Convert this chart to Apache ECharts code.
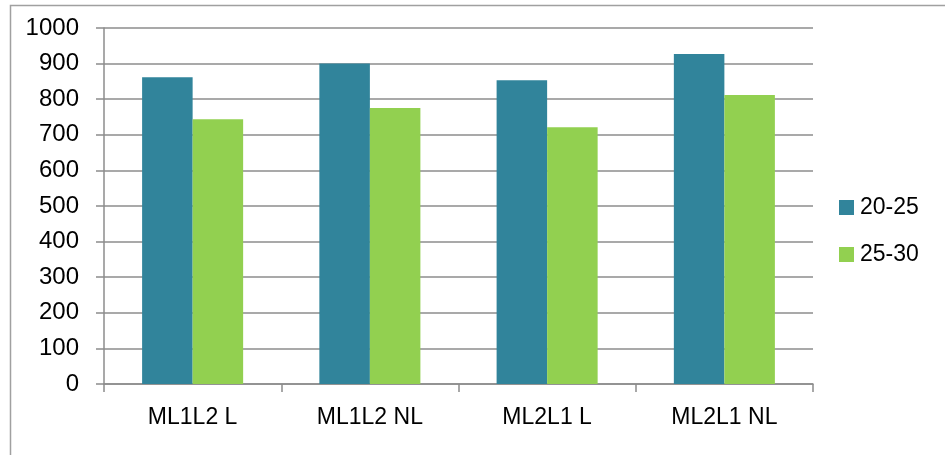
<!DOCTYPE html>
<html>
<head>
<meta charset="utf-8">
<script src="https://cdn.jsdelivr.net/npm/echarts@6/dist/echarts.min.js"></script>
<style>
  html, body { margin: 0; padding: 0; background: #fff; }
  #chart { width: 945px; height: 455px; }
</style>
</head>
<body>
<div id="chart"></div>
<script>
// Categories and the two age-group series
const categories = ['ML1L2 L', 'ML1L2 NL', 'ML2L1 L', 'ML2L1 NL'];
const series2025 = [862, 900, 853, 927];
const series2530 = [744, 775, 721, 812];
const seriesNames = ['20-25', '25-30'];
const yTicks = { min: 0, max: 1000, interval: 100 };

const font = "'Liberation Sans', Arial, sans-serif";
const chart = echarts.init(document.getElementById('chart'), null, { renderer: 'canvas' });

chart.setOption({
  animation: false,
  backgroundColor: '#fff',
  graphic: [{
    type: 'rect',
    shape: { x: 10.5, y: 5.5, width: 1000, height: 500 },
    style: { fill: 'none', stroke: '#a0a0a0', lineWidth: 1.5 },
    silent: true
  }],
  grid: { left: 104, right: 132, top: 28, bottom: 71, containLabel: false },
  legend: {
    orient: 'vertical',
    left: 839,
    top: 196,
    padding: 0,
    itemWidth: 15,
    itemHeight: 15,
    itemGap: 24,
    icon: 'rect',
    textStyle: { fontFamily: font, fontSize: 23, color: '#000', padding: [0, 0, 0, 1] },
    data: seriesNames
  },
  xAxis: {
    type: 'category',
    data: categories,
    boundaryGap: true,
    axisLine: { lineStyle: { color: '#8c8c8c', width: 1.5 } },
    axisTick: { show: true, alignWithLabel: false, length: 8, lineStyle: { color: '#8c8c8c', width: 1.5 } },
    axisLabel: { fontFamily: font, fontSize: 23, color: '#000', margin: 22 }
  },
  yAxis: {
    type: 'value',
    min: yTicks.min,
    max: yTicks.max,
    interval: yTicks.interval,
    axisLine: { show: true, lineStyle: { color: '#8c8c8c', width: 1.5 } },
    axisTick: { show: true, length: 8, lineStyle: { color: '#8c8c8c', width: 1.5 } },
    axisLabel: {
      fontFamily: font, fontSize: 24, color: '#000', margin: 25,
      formatter: v => String(v)
    },
    splitLine: { show: true, lineStyle: { color: '#8c8c8c', width: 1.5 } }
  },
  series: [
    {
      name: seriesNames[0],
      type: 'bar',
      data: series2025,
      itemStyle: { color: '#31849B' },
      barGap: '0%',
      barCategoryGap: '43%'
    },
    {
      name: seriesNames[1],
      type: 'bar',
      data: series2530,
      itemStyle: { color: '#92D050' },
      barGap: '0%',
      barCategoryGap: '43%'
    }
  ]
});
</script>
</body>
</html>
